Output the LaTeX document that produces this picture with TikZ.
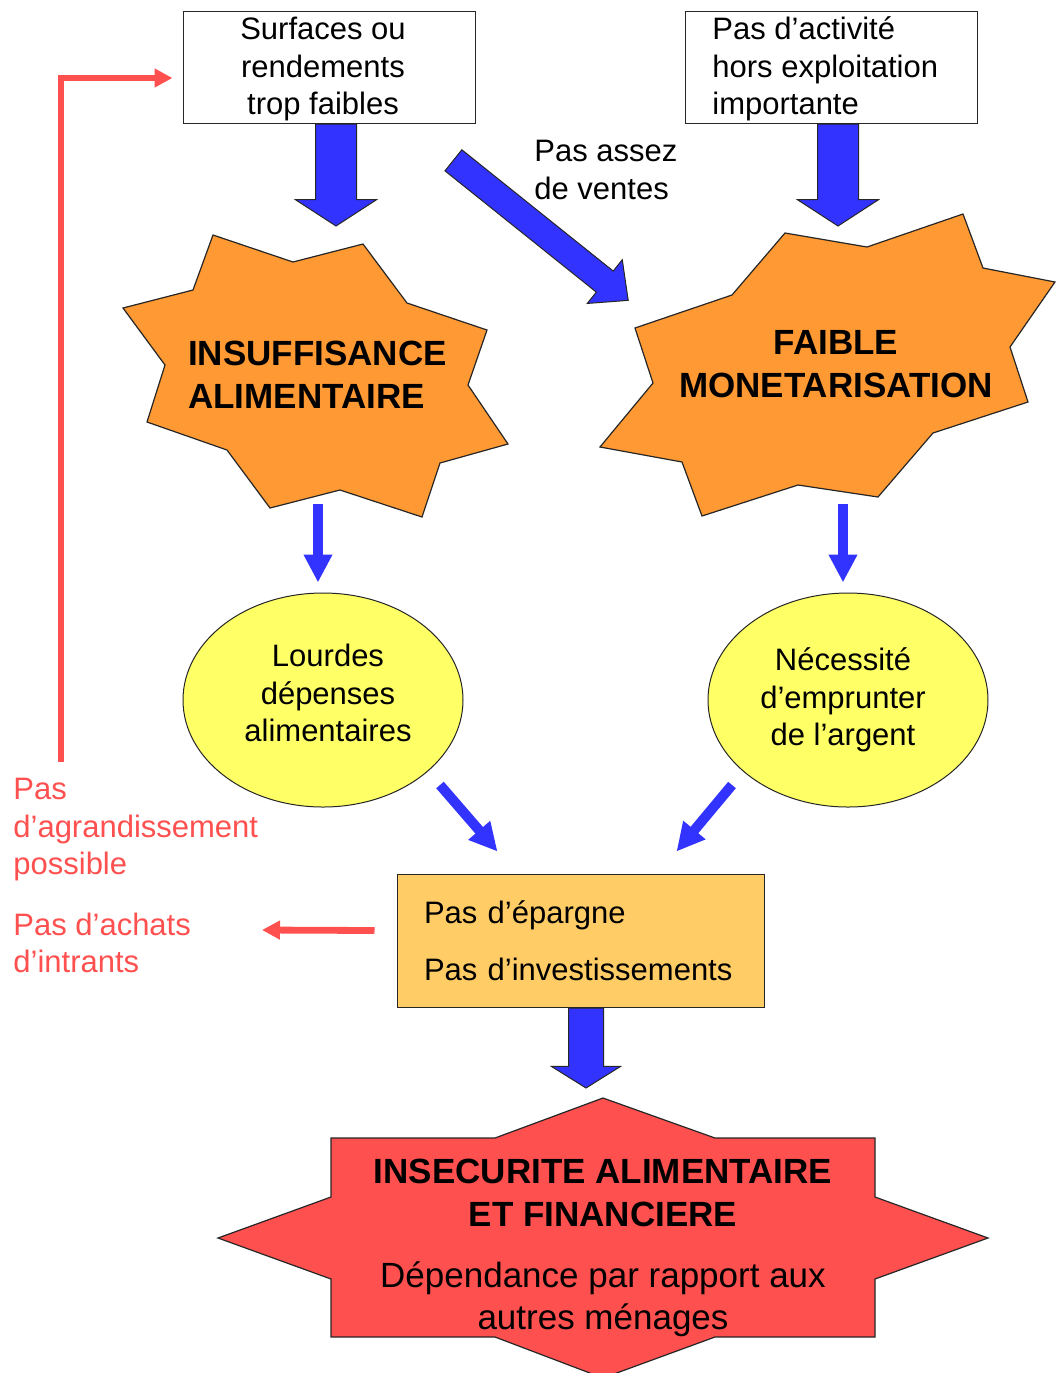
\documentclass[tikz,border=0pt]{standalone}
\usepackage{fontspec}
\setmainfont{Liberation Sans}
\usetikzlibrary{arrows.meta,positioning,calc,shapes.geometric,shapes.arrows}
\definecolor{fatblue}{HTML}{3333FF}
\definecolor{starorange}{HTML}{FF9933}
\definecolor{ovalyellow}{HTML}{FFFF66}
\definecolor{boxorange}{HTML}{FFCC66}
\definecolor{alertred}{HTML}{FF5050}
\tikzset{
	txt/.style={font=\fontsize{15.5pt}{18.75pt}\selectfont, inner sep=0pt},
	hdr/.style={font=\fontsize{17.5pt}{21.5pt}\selectfont\bfseries, inner sep=0pt, align=center},
	cause/.style={txt, draw=black!85, line width=0.5pt, fill=white,
		minimum width=146pt, minimum height=56pt},
	burst/.style={draw=black!85, line width=0.6pt, fill=starorange},
	oval/.style={ellipse, draw=black!85, line width=0.5pt, fill=ovalyellow,
		minimum width=140pt, minimum height=107pt},
	fat/.style={single arrow, draw=black!85, line width=0.5pt, fill=fatblue,
		inner xsep=0pt, single arrow head indent=0pt, anchor=tail},
	thinarr/.style={draw=fatblue, line width=5pt, -{Triangle[length=14pt,width=13.5pt]}},
	redarr/.style={draw=alertred, line width=3.4pt, -{Triangle[length=9pt,width=9pt]}},
	note/.style={txt, text=alertred, align=left},
}
\begin{document}
\begin{tikzpicture}[x=0.5pt, y=-0.5pt]
	\useasboundingbox (0,0) rectangle (1056,1373);
	% top causes
	\node[cause] (surf) at (329,67) {};
	\node[txt, align=center] (surftxt) at (323,69) {Surfaces ou\\rendements\\trop faibles};
	\node[cause] (activ) at (831.5,67) {};
	\node[txt, align=left, anchor=west] (activtxt) at (712,69) {Pas d’activité\\hors exploitation\\importante};
	% the two bursts
	\draw[burst] (213,235) -- (293,262) -- (363,244) -- (407,303) -- (487,330) -- (468,385) -- (508,444) -- (440,463)
		-- (422,517) -- (340,490) -- (270,508) -- (227,450) -- (147,422) -- (165,365) -- (123,308) -- (193,290) -- cycle;
	\node[hdr, align=left] (insuf) at (317.5,374.5) {INSUFFISANCE\\ALIMENTAIRE};
	\draw[burst] (785,233) -- (867,247) -- (963,214) -- (983,268) -- (1055,282) -- (1010,347) -- (1028,402) -- (933,433)
		-- (878,497) -- (798,485) -- (702,516) -- (682,462) -- (600,447) -- (653,383) -- (635,328) -- (732,295) -- cycle;
	\node[hdr] (faible) at (836,364.5) {FAIBLE\\MONETARISATION};
	% fat arrows
	\node[fat, minimum height=51pt, inner ysep=10pt, single arrow head extend=10pt, single arrow tip angle=114, rotate=-90] (fsurf) at (surf.south -| 336,0) {};
	\node[fat, minimum height=51pt, inner ysep=10pt, single arrow head extend=10pt, single arrow tip angle=114, rotate=-90] (factiv) at (activ.south -| 838,0) {};
	\node[fat, minimum height=112pt, inner ysep=6.5pt, single arrow head extend=7.25pt, single arrow tip angle=86, rotate=-38.7] (fvente) at (453,160) {};
	\node[txt, align=left, anchor=west] (ventes) at (534,170) {Pas assez\\de ventes};
	% consequences
	\node[oval] (lourdes) at (323,700) {};
	\node[txt, align=center] (lourdestxt) at (328,693) {Lourdes\\dépenses\\alimentaires};
	\node[oval] (emprunt) at (848,700) {};
	\node[txt, align=center] (emprunttxt) at (843,700) {Nécessité\\d’emprunter\\de l’argent};
	\coordinate (insufout) at (318,504);
	\coordinate (faibleout) at (843,504);
	\draw[thinarr] (insufout) -- ([yshift=5pt]insufout |- lourdes.north);
	\draw[thinarr] (faibleout) -- ([yshift=5pt]faibleout |- emprunt.north);
	\node[txt, draw=black!85, line width=0.5pt, fill=boxorange, minimum width=183.5pt, minimum height=66.5pt,
		text width=156.5pt, inner xsep=13.5pt, align=left] (epargne) at (580.5,940.5) {Pas d’épargne\\[10pt]Pas d’investissements};
	\coordinate (lourdesout) at (440,785);
	\coordinate (empruntout) at (732,785);
	\draw[thinarr] (lourdesout) -- ($(epargne.north)+(-83,-22)$);
	\draw[thinarr] (empruntout) -- ($(epargne.north)+(96,-22)$);
	\node[fat, minimum height=40pt, inner ysep=8.5pt, single arrow head extend=8.5pt, single arrow tip angle=116, rotate=-90] (fepargne) at (epargne.south -| 586,0) {};
	% final outcome
	\draw[burst, fill=alertred] (603,1098) -- (715,1138) -- (875,1138) -- (875,1197) -- (988,1238) -- (875,1279) -- (875,1337) -- (715,1337)
		-- (603,1378) -- (495,1337) -- (331,1337) -- (331,1279) -- (218,1238) -- (331,1197) -- (331,1138) -- (495,1138) -- cycle;
	\node[hdr] (insec) at (603,1192.5) {INSECURITE ALIMENTAIRE\\ET FINANCIERE};
	\node[txt, font=\fontsize{17.5pt}{21pt}\selectfont, align=center] (depend) at (603,1299) {Dépendance par rapport aux\\autres ménages};
	% feedback in red
	\node[note, anchor=west] (agrand) at (13,830) {Pas\\d’agrandissement\\possible};
	\node[note, anchor=west] (achats) at (13,943) {Pas d’achats\\d’intrants};
	\coordinate (loopstart) at (61,762);
	\coordinate (achatsin) at (262,930);
	\draw[redarr] (loopstart) |- ($(surf.west)+(-10,11)$);
	\draw[redarr] ($(epargne.west)+(-22,-10)$) -- (achatsin);
\end{tikzpicture}
\end{document}
